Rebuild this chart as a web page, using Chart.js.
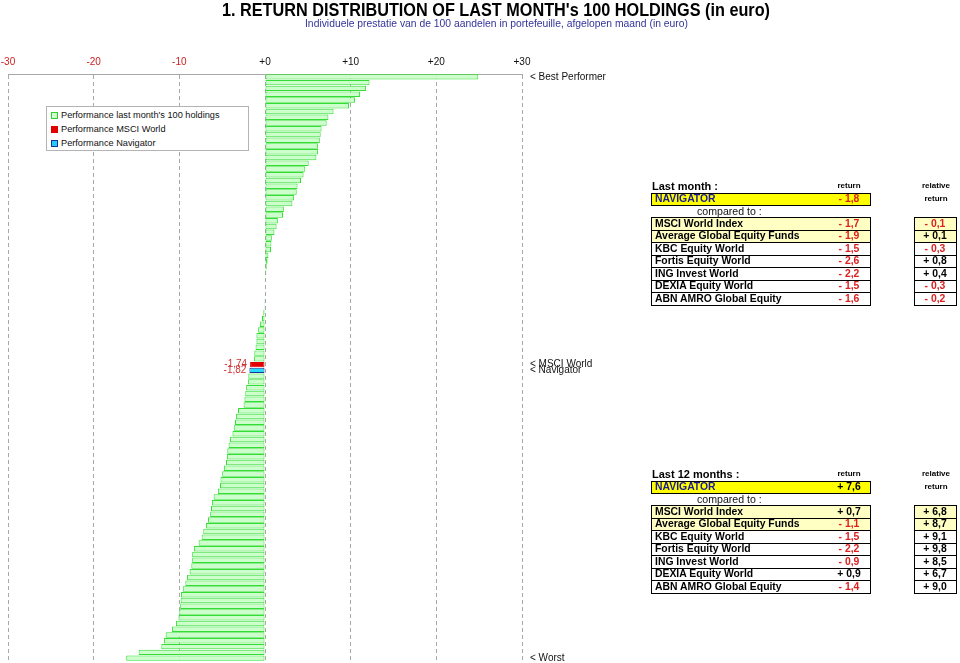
<!DOCTYPE html>
<html>
<head>
<meta charset="utf-8">
<title>Return distribution</title>
<script src="https://cdn.jsdelivr.net/npm/chart.js@4.4.1/dist/chart.umd.min.js"></script>
<style>
  html, body { margin: 0; padding: 0; background: #fff; }
  body { font-family: "Liberation Sans", Arial, Helvetica, sans-serif; }
  #page { position: relative; width: 960px; height: 663px; overflow: hidden; }
  #chart { position: absolute; left: 0; top: 0; }
  .fit { position: absolute; white-space: nowrap; transform-origin: left top; }
  #title { top: 0px; font-size: 18px; font-weight: bold; color: #000; }
  #subtitle { top: 18px; font-size: 10px; color: #33339a; }
  #legend { position: absolute; left: 46px; top: 106px; width: 201px; height: 43px;
            border: 1px solid #b4b4b4; background: #fff; font-size: 9.2px; color: #111; }
  .lg-item { position: absolute; left: 4px; height: 12px; line-height: 12px; white-space: nowrap; }
  .lg-box { position: absolute; left: 0; top: 3px; width: 5px; height: 5px; border: 1px solid; }
  .lg-text { position: absolute; left: 10px; top: 0; }
  .txt { position: absolute; white-space: nowrap; line-height: 12px; }
  .box { position: absolute; border: 1px solid #000; box-sizing: border-box; }
  .row { position: absolute; left: 0; right: 0; box-sizing: border-box; border-bottom: 1px solid #000; }
  .row:last-child { border-bottom: none; }
</style>
</head>
<body>
<div id="page">
  <canvas id="chart" width="960" height="663"></canvas>
  <span id="title" class="fit">1. RETURN DISTRIBUTION OF LAST MONTH's 100 HOLDINGS (in euro)</span>
  <span id="subtitle" class="fit">Individuele prestatie van de 100 aandelen in portefeuille, afgelopen maand (in euro)</span>
  <div id="legend">
    <div class="lg-item" style="top:2px"><span class="lg-box" style="background:#ccffcc;border-color:#33cc33"></span><span class="lg-text">Performance last month's 100 holdings</span></div>
    <div class="lg-item" style="top:16px"><span class="lg-box" style="background:#e00000;border-color:#e00000"></span><span class="lg-text">Performance MSCI World</span></div>
    <div class="lg-item" style="top:30px"><span class="lg-box" style="background:#22ccff;border-color:#1a3399"></span><span class="lg-text">Performance Navigator</span></div>
  </div>
</div>
<script>
// --- data -----------------------------------------------------------------
// returns of the 100 holdings last month (in %), best to worst
const holdings = [
  24.9, 12.2, 11.8, 11.1, 10.5, 9.8, 8.0, 7.4, 7.2, 6.6,
  6.5, 6.4, 6.2, 6.2, 6.0, 5.1, 4.7, 4.5, 4.2, 3.8,
  3.7, 3.4, 3.2, 2.2, 2.1, 1.5, 1.35, 1.1, 0.8, 0.75,
  0.7, 0.4, 0.3, 0.2, 0.15, 0.1, 0.05, 0.0, -0.05, -0.1,
  -0.1, -0.2, -0.35, -0.6, -0.8, -1.0, -1.0, -1.1, -1.25, -1.3,
  -1.95, -2.0, -2.2, -2.3, -2.4, -2.5, -3.15, -3.4, -3.5, -3.65,
  -3.8, -4.1, -4.25, -4.4, -4.45, -4.55, -4.8, -5.0, -5.2, -5.25,
  -5.5, -6.0, -6.2, -6.3, -6.4, -6.65, -6.9, -7.2, -7.4, -7.75,
  -8.3, -8.5, -8.5, -8.6, -8.8, -9.1, -9.3, -9.6, -9.8, -9.85,
  -9.9, -10.0, -10.1, -10.4, -10.85, -11.6, -11.8, -12.1, -14.75, -16.2
];
const msciWorld = -1.74;
const navigatorPerf = -1.82;

const xTicks = [-30, -20, -10, 0, 10, 20, 30];

const compareNames = ['MSCI World Index', 'Average Global Equity Funds', 'KBC Equity World',
  'Fortis Equity World', 'ING Invest World', 'DEXIA Equity World', 'ABN AMRO Global Equity'];
const highlighted = [true, true, false, false, false, false, false];
const monthNavigator = -1.8;
const monthReturns = [-1.7, -1.9, -1.5, -2.6, -2.2, -1.5, -1.6];
const monthRelative = [-0.1, 0.1, -0.3, 0.8, 0.4, -0.3, -0.2];
const yearNavigator = 7.6;
const yearReturns = [0.7, -1.1, -1.5, -2.2, -0.9, 0.9, -1.4];
const yearRelative = [6.8, 8.7, 9.1, 9.8, 8.5, 6.7, 9.0];

// --- title fitting ----------------------------------------------------------
function fitText(id, left, width) {
  const el = document.getElementById(id);
  const w = el.getBoundingClientRect().width;
  el.style.left = left + 'px';
  el.style.transform = 'scaleX(' + (width / w) + ')';
}
fitText('title', 222, 548);
fitText('subtitle', 305, 383);

// --- tables -----------------------------------------------------------------
const page = document.getElementById('page');
const RED = '#dd2020';

const fmt = v => (v < 0 ? '- ' : '+ ') + Math.abs(v).toFixed(1).replace('.', ',');

function addText(text, x, y, css, align) {
  const el = document.createElement('div');
  el.className = 'txt';
  el.textContent = text;
  el.style.cssText += css;
  el.style.top = (y - 6) + 'px';
  if (align === 'center') {
    el.style.left = (x - 100) + 'px';
    el.style.width = '200px';
    el.style.textAlign = 'center';
  } else {
    el.style.left = x + 'px';
  }
  page.appendChild(el);
  return el;
}

function buildTable(y0, heading, navValue, returns, relative) {
  const bold = 'font-weight:bold;';
  addText(heading, 652, y0, bold + 'font-size:11px;');
  addText('return', 849, y0, bold + 'font-size:8px;', 'center');
  addText('relative', 936, y0, bold + 'font-size:8px;', 'center');
  addText('return', 936, y0 + 13, bold + 'font-size:8px;', 'center');

  const nav = document.createElement('div');
  nav.className = 'box';
  nav.style.cssText += 'left:651px;top:' + (y0 + 7) + 'px;width:220px;height:12.5px;background:#ffff00;';
  page.appendChild(nav);
  addText('NAVIGATOR', 655, y0 + 13, bold + 'font-size:10.4px;color:#1a1aa0;');
  addText(fmt(navValue), 849, y0 + 13, bold + 'font-size:10.4px;color:' + (navValue < 0 ? RED : '#000') + ';', 'center');

  addText('compared to :', 697, y0 + 25, 'font-size:10.6px;color:#111;');

  const rowTop = y0 + 31, rowH = 12.5;
  const main = document.createElement('div');
  main.className = 'box';
  main.style.cssText += 'left:651px;top:' + rowTop + 'px;width:220px;height:' + (rowH * 7 + 1) + 'px;';
  const rel = document.createElement('div');
  rel.className = 'box';
  rel.style.cssText += 'left:914px;top:' + rowTop + 'px;width:43px;height:' + (rowH * 7 + 1) + 'px;';
  compareNames.forEach((name, i) => {
    [main, rel].forEach(b => {
      const r = document.createElement('div');
      r.className = 'row';
      r.style.top = (i * rowH) + 'px';
      r.style.height = rowH + 'px';
      if (highlighted[i]) r.style.background = '#ffffc4';
      b.appendChild(r);
    });
    const cy = rowTop + i * rowH + 6.5;
    addText(name, 655, cy, bold + 'font-size:10.4px;color:#000;');
    addText(fmt(returns[i]), 849, cy, bold + 'font-size:10.4px;color:' + (returns[i] < 0 ? RED : '#000') + ';', 'center');
    addText(fmt(relative[i]), 935, cy, bold + 'font-size:10.4px;color:' + (relative[i] < 0 ? RED : '#000') + ';', 'center');
  });
  page.insertBefore(main, page.querySelector('.txt'));
  page.insertBefore(rel, page.querySelector('.txt'));
}

buildTable(186, 'Last month :', monthNavigator, monthReturns, monthRelative);
buildTable(474, 'Last 12 months :', yearNavigator, yearReturns, yearRelative);

// --- chart ------------------------------------------------------------------
const rows = holdings.map(v => ({ v: v, kind: 'holding' }));
rows.push({ v: msciWorld, kind: 'msci' }, { v: navigatorPerf, kind: 'nav' });
rows.sort((a, b) => b.v - a.v);

const fills = { holding: '#ccffcc', msci: '#e00000', nav: '#22ddff' };
const borders = { holding: '#33dd33', msci: '#e00000', nav: '#1a3399' };

const sideLabels = {
  id: 'sideLabels',
  afterDatasetsDraw(chart) {
    const ctx = chart.ctx;
    const meta = chart.getDatasetMeta(0);
    const right = chart.chartArea.right + 8;
    ctx.save();
    ctx.font = '10px "Liberation Sans", Arial, sans-serif';
    ctx.textBaseline = 'middle';
    rows.forEach((r, i) => {
      const bar = meta.data[i];
      let txt = null;
      if (i === 0) txt = '< Best Performer';
      else if (i === rows.length - 1) txt = '< Worst';
      else if (r.kind === 'msci') txt = '< MSCI World';
      else if (r.kind === 'nav') txt = '< Navigator';
      if (txt) {
        ctx.fillStyle = '#111';
        ctx.textAlign = 'left';
        ctx.fillText(txt, right, bar.y);
      }
      if (r.kind !== 'holding') {
        ctx.fillStyle = '#cc3333';
        ctx.textAlign = 'right';
        ctx.fillText(r.v.toFixed(2).replace('.', ','), bar.x - 3, bar.y);
      }
    });
    ctx.restore();
  }
};

new Chart(document.getElementById('chart'), {
  type: 'bar',
  data: {
    labels: rows.map((r, i) => String(i + 1)),
    datasets: [{
      data: rows.map(r => r.v),
      backgroundColor: rows.map(r => fills[r.kind]),
      borderColor: rows.map(r => borders[r.kind]),
      borderWidth: 1,
      borderSkipped: false,
      barPercentage: 0.95,
      categoryPercentage: 1
    }]
  },
  options: {
    indexAxis: 'y',
    responsive: false,
    animation: false,
    devicePixelRatio: 1,
    layout: { padding: { left: 8, right: 438, top: 44, bottom: 2 } },
    plugins: { legend: { display: false }, tooltip: { enabled: false } },
    scales: {
      x: {
        position: 'top',
        min: -30,
        max: 30,
        afterBuildTicks: axis => { axis.ticks = xTicks.map(v => ({ value: v })); },
        afterFit: axis => {
          axis.height = 30;
          axis.paddingLeft = 0;
          axis.paddingRight = 0;
        },
        ticks: {
          padding: 6,
          font: { size: 10, family: '"Liberation Sans", Arial, sans-serif' },
          color: c => (c.tick && c.tick.value < 0 ? '#cc2222' : '#111'),
          callback: v => (v < 0 ? String(v) : '+' + v)
        },
        grid: { color: '#a8a8a8', lineWidth: 1, drawTicks: false },
        border: { display: true, color: '#a8a8a8', width: 1, dash: [4, 3] }
      },
      y: { display: false }
    }
  },
  plugins: [sideLabels]
});
</script>
</body>
</html>
